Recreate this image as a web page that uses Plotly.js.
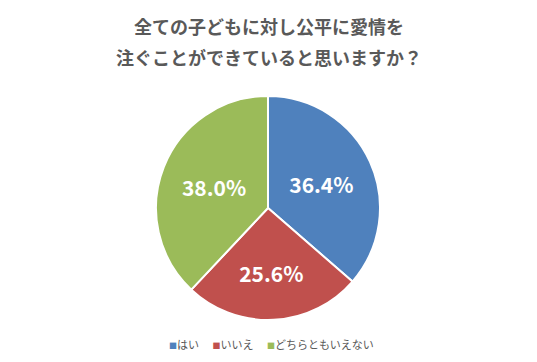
<!DOCTYPE html>
<html>
<head>
<meta charset="utf-8">
<script src="https://cdn.plot.ly/plotly-3.0.1.min.js"></script>
<style>html,body{margin:0;padding:0;background:#fff;}</style>
</head>
<body>
<div id="chart" style="width:537px;height:362px;"></div>
<script>
const labels = ["はい", "いいえ", "どちらともいえない"];
const values = [36.4, 25.6, 38.0];
const colors = ["#4F81BD", "#C0504D", "#9BBB59"];
const titleLines = ["全ての子どもに対し公平に愛情を", "注ぐことができていると思いますか？"];

const font = "'Noto Sans CJK JP', 'Noto Sans', sans-serif";

const trace = {
  type: "pie",
  labels: labels,
  values: values,
  sort: false,
  direction: "clockwise",
  rotation: 0,
  marker: {colors: colors, line: {color: "#ffffff", width: 2}},
  texttemplate: "%{value:.1f}%",
  textposition: "inside",
  insidetextorientation: "horizontal",
  textfont: {family: font, size: 21, color: "#ffffff", weight: "bold"},
  domain: {x: [0.2905, 0.7076], y: [0.116, 0.7348]},
  hoverinfo: "none",
  showlegend: false
};

// Custom compact legend built from labels/colors
const legendText = labels.map((l, i) =>
  `<span style="color:${colors[i]};font-size:8px">■</span>${l}`
).join("　 ");

const layout = {
  width: 537,
  height: 362,
  margin: {l: 0, r: 0, t: 0, b: 0},
  paper_bgcolor: "#ffffff",
  showlegend: false,
  annotations: [
    {
      text: titleLines[0], xref: "paper", yref: "paper",
      x: 0.5, y: 1 - 26 / 362, xanchor: "center", yanchor: "middle",
      showarrow: false,
      font: {family: font, size: 18, color: "#595959", weight: "bold"}
    },
    {
      text: titleLines[1], xref: "paper", yref: "paper",
      x: 0.5, y: 1 - 57 / 362, xanchor: "center", yanchor: "middle",
      showarrow: false,
      font: {family: font, size: 18, color: "#595959", weight: "bold"}
    },
    {
      text: legendText, xref: "paper", yref: "paper",
      x: 271 / 537, y: 1 - 344 / 362, xanchor: "center", yanchor: "middle",
      showarrow: false,
      font: {family: font, size: 11, color: "#595959"}
    }
  ]
};

Plotly.newPlot("chart", [trace], layout, {displayModeBar: false, staticPlot: true});
</script>
</body>
</html>
